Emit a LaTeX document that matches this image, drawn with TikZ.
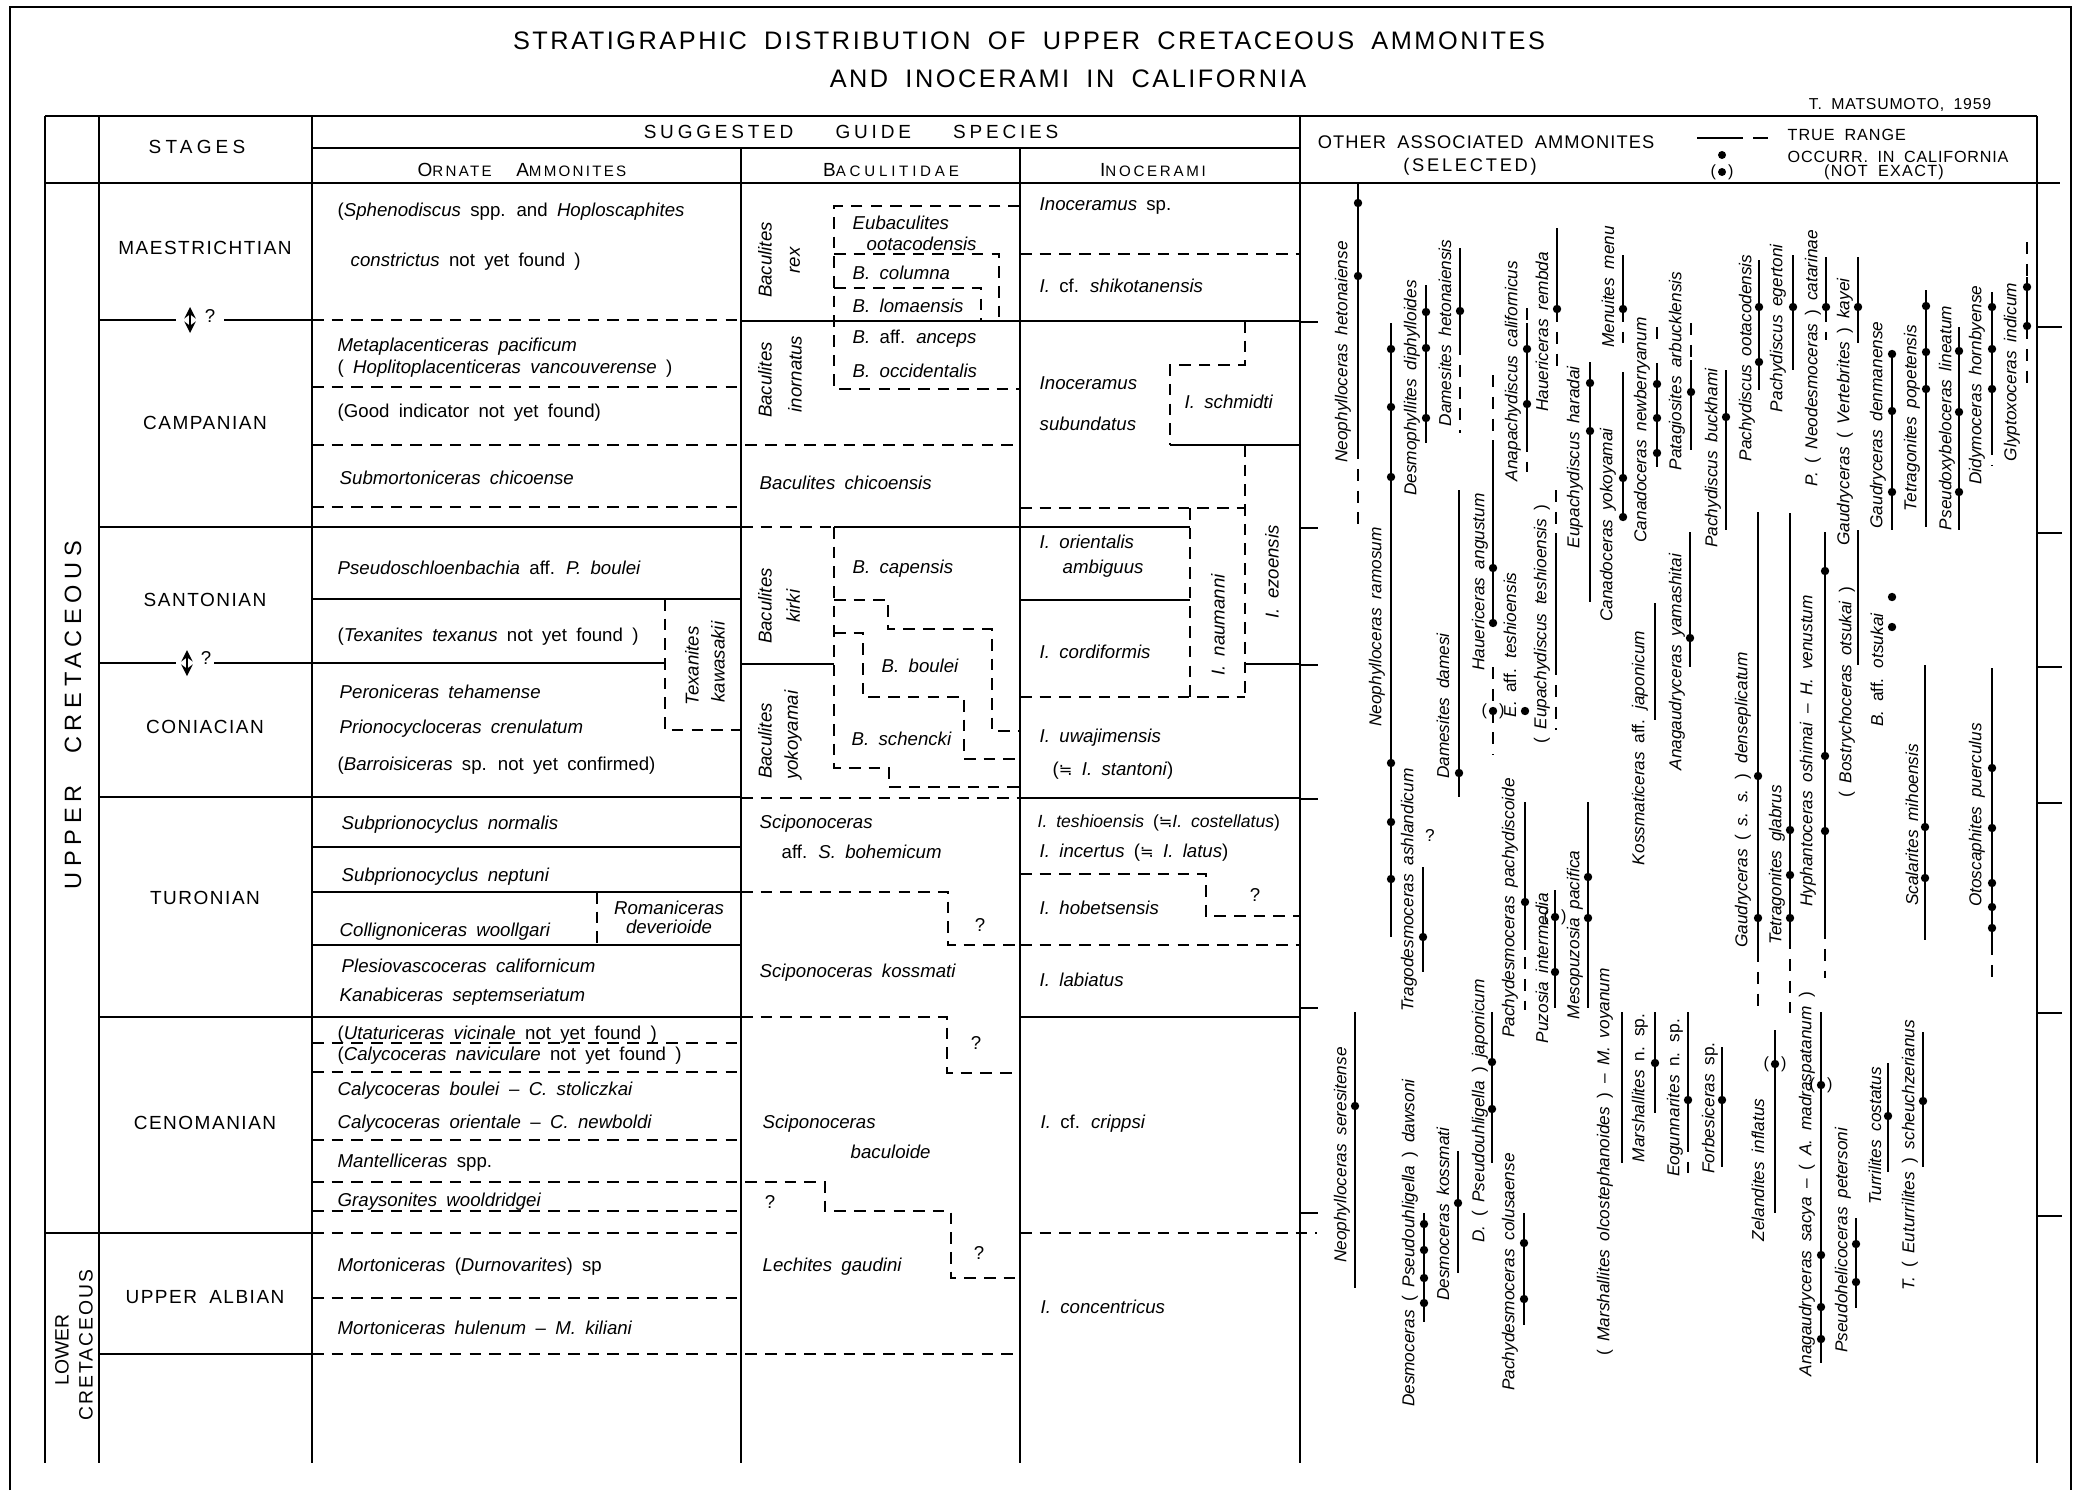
\documentclass[tikz,border=0pt]{standalone}
\usepackage{fontspec}
\setmainfont{Liberation Sans}[WordSpace=1.8]
\newfontfamily\symfont{DejaVu Sans}
\newcommand{\tbfont}{\fontsize{5.3}{6}\selectfont}
\newcommand{\spfont}{\fontsize{4.9}{6}\selectfont}
\newcommand{\stfont}{\fontsize{5.4}{6}\selectfont\addfontfeatures{LetterSpace=8}}
\newcommand{\smc}[1]{{\fontsize{4.3}{5}\selectfont #1}}
\newcommand{\nearly}{{\symfont\fontsize{4.6}{5}\selectfont ≒}}

\tikzset{
	tl/.style={line width=0.6pt},
	td/.style={line width=0.6pt, dash pattern=on 3.3pt off 2.3pt},
	rg/.style={line width=0.55pt},
	rd/.style={line width=0.55pt, dash pattern=on 3.4pt off 2.8pt},
	tx/.style={anchor=west, inner sep=0pt, font=\tbfont},
	rt/.style={rotate=90, inner sep=0pt, font=\tbfont},
	lab/.style={rotate=90, inner sep=0pt, font=\spfont},
	stg/.style={inner sep=0pt, font=\stfont},
}

\begin{document}
\begin{tikzpicture}[x=0.01cm, y=-0.01cm]
	\useasboundingbox (0,0) rectangle (2077,1503);
	\draw[tl] (10,1490) -- (10,7) -- (2071,7) -- (2071,1490);

	\node[font=\fontsize{7.2}{8}\selectfont\addfontfeatures{LetterSpace=10}] (title) at (1029,41) {STRATIGRAPHIC DISTRIBUTION OF UPPER CRETACEOUS AMMONITES};
	\node[font=\fontsize{7.2}{8}\selectfont\addfontfeatures{LetterSpace=10}] (titleb) at (1068,79) {AND INOCERAMI IN CALIFORNIA};
	\node[font=\fontsize{4.5}{5}\selectfont\addfontfeatures{LetterSpace=5}] (author) at (1900,105) {T. MATSUMOTO, 1959};

	\foreach \x in {45, 99, 312, 1300, 2037}
		\draw[tl] (\x,116) -- (\x,1463);
	\foreach \x in {741, 1020}
		\draw[tl] (\x,148) -- (\x,1463);
	\draw[tl] (45,116) -- (2037,116);
	\draw[tl] (312,148) -- (1300,148);
	\draw[tl] (45,183) -- (2060,183);

	\node[font=\fontsize{5.4}{6}\selectfont\addfontfeatures{LetterSpace=22}] (stages) at (197,147) {STAGES};
	\node[font=\fontsize{5.4}{6}\selectfont\addfontfeatures{LetterSpace=20}] (guide) at (851,132) {SUGGESTED\hspace{12pt}GUIDE\hspace{12pt}SPECIES};
	\node[font=\fontsize{5.4}{6}\selectfont\addfontfeatures{LetterSpace=15}] (ornate) at (522,170) {O\smc{RNATE}\hspace{7pt}A\smc{MMONITES}};
	\node[font=\fontsize{5.4}{6}\selectfont\addfontfeatures{LetterSpace=25}] (bacul) at (891,170) {B\smc{ACULITIDAE}};
	\node[font=\fontsize{5.4}{6}\selectfont\addfontfeatures{LetterSpace=18}] (inoc) at (1153,170) {I\smc{NOCERAMI}};
	\node[font=\fontsize{5.2}{6}\selectfont\addfontfeatures{LetterSpace=6}] (others) at (1486,142) {OTHER ASSOCIATED AMMONITES};
	\node[font=\fontsize{5.2}{6}\selectfont\addfontfeatures{LetterSpace=15}] (selected) at (1470,167) {(SELECTED)};

	\draw[rg] (1697,138) -- (1743,138) (1753,138) -- (1768,138);
	\fill (1722,155) circle (4);
	\fill (1722,172) circle (4);
	\node[font=\fontsize{4.6}{5}\selectfont] (legpar) at (1722,172) {(\hspace{3.4pt})};
	\node[anchor=west, inner sep=0pt, font=\fontsize{4.6}{5}\selectfont\addfontfeatures{LetterSpace=6}] (truerange) at (1787,135) {TRUE RANGE};
	\node[anchor=west, inner sep=0pt, font=\fontsize{4.6}{5}\selectfont\addfontfeatures{LetterSpace=5}] (occurr) at (1787,157) {OCCURR. IN CALIFORNIA};
	\node[font=\fontsize{4.6}{5}\selectfont\addfontfeatures{LetterSpace=8}] (notexact) at (1884,172) {(NOT EXACT)};

	\node[rotate=90, font=\fontsize{6.7}{7}\selectfont\addfontfeatures{LetterSpace=24}] (upper) at (73,715) {UPPER\hspace{9pt}CRETACEOUS};
	\node[rotate=90, font=\fontsize{5.5}{6}\selectfont] (lower) at (62,1350) {LOWER};
	\node[rotate=90, font=\fontsize{5.5}{6}\selectfont\addfontfeatures{LetterSpace=10}] (lowcret) at (86,1345) {CRETACEOUS};

	\node[stg] (maes) at (205,248) {MAESTRICHTIAN};
	\node[stg] (camp) at (205,423) {CAMPANIAN};
	\node[stg] (sant) at (205,600) {SANTONIAN};
	\node[stg] (coni) at (205,727) {CONIACIAN};
	\node[stg] (turo) at (205,898) {TURONIAN};
	\node[stg] (ceno) at (205,1123) {CENOMANIAN};
	\node[stg] (albi) at (205,1297) {UPPER ALBIAN};

	\draw[stealth-stealth, line width=0.45pt] (190,307) -- (190,333);
	\node[font=\tbfont] (qa) at (210,316) {?};
	\draw[stealth-stealth, line width=0.45pt] (187,650) -- (187,676);
	\node[font=\tbfont] (qb) at (206,658) {?};

	\draw[tl] (99,320) -- (176,320) (224,320) -- (312,320);
	\draw[td] (312,320) -- (741,320);
	\draw[tl] (741,321) -- (1300,321);
	\draw[tl] (99,527) -- (741,527);
	\draw[td] (741,527) -- (834,527);
	\draw[tl] (834,527) -- (1190,527);
	\draw[tl] (99,663) -- (176,663) (214,663) -- (665,663);
	\draw[tl] (741,664) -- (834,664);
	\draw[tl] (1245,664) -- (1300,664);
	\draw[tl] (99,797) -- (741,797);
	\draw[td] (741,798) -- (1020,798);
	\draw[tl] (1020,798) -- (1300,798);
	\draw[tl] (99,1017) -- (741,1017);
	\draw[td] (741,1017) -- (947,1017) -- (947,1073) -- (1020,1073);
	\draw[tl] (1020,1017) -- (1300,1017);
	\draw[tl] (45,1233) -- (312,1233);
	\draw[td] (312,1233) -- (741,1233);
	\draw[td] (1020,1233) -- (1317,1233);
	\draw[tl] (99,1354) -- (312,1354);
	\draw[td] (312,1354) -- (1020,1354);

	\foreach \y in {599, 847, 892, 945}
		\draw[tl] (312,\y) -- (741,\y);
	\foreach \y in {387, 507, 1043, 1072, 1140, 1211, 1298}
		\draw[td] (312,\y) -- (741,\y);
	\draw[td] (312,445) -- (1020,445);
	\draw[td] (312,1182) -- (825,1182) -- (825,1211) -- (951,1211) -- (951,1278) -- (1020,1278);
	\draw[td] (665,599) -- (665,730) -- (741,730);
	\draw[td] (597,892) -- (597,945);

	\draw[td] (1020,206) -- (834,206) -- (834,389) -- (1020,389);
	\draw[td] (834,254) -- (999,254) -- (999,321);
	\draw[td] (834,288) -- (981,288) -- (981,321);
	\draw[td] (834,527) -- (834,768) -- (889,768) -- (889,787) -- (1020,787);
	\draw[td] (834,600) -- (888,600) -- (888,629) -- (992,629) -- (992,731) -- (1020,731);
	\draw[td] (834,633) -- (863,633) -- (863,697) -- (964,697) -- (964,759) -- (1020,759);
	\draw[td] (741,892) -- (948,892) -- (948,945) -- (1020,945);

	\draw[td] (1020,254) -- (1300,254);
	\draw[td] (1245,321) -- (1245,365) -- (1170,365) -- (1170,445);
	\draw[tl] (1170,445) -- (1300,445);
	\draw[td] (1245,445) -- (1245,697);
	\draw[td] (1020,508) -- (1245,508);
	\draw[td] (1190,508) -- (1190,697);
	\draw[td] (1020,697) -- (1245,697);
	\draw[tl] (1020,600) -- (1190,600);
	\draw[td] (1020,874) -- (1206,874) -- (1206,916) -- (1300,916);
	\draw[td] (1020,945) -- (1300,945);

	\foreach \y in {322, 528, 665, 799, 1008, 1213}
		\draw[tl] (1300,\y) -- (1318,\y);
	\foreach \y in {327, 533, 667, 803, 1013, 1216}
		\draw[tl] (2037,\y) -- (2062,\y);

	\node[tx] (sphen) at (337,212) {(\textit{Sphenodiscus} spp. and \textit{Hoploscaphites}};
	\node[tx] (constr) at (350,262) {\textit{constrictus} not yet found )};
	\node[tx] (metapl) at (337,347) {\textit{Metaplacenticeras pacificum}};
	\node[tx] (hoplit) at (337,369) {( \textit{Hoplitoplacenticeras vancouverense} )};
	\node[tx] (goodind) at (337,413) {(Good indicator not yet found)};
	\node[tx] (submort) at (339,478) {\textit{Submortoniceras chicoense}};
	\node[tx] (pseudos) at (337,568) {\textit{Pseudoschloenbachia} aff. \textit{P. boulei}};
	\node[tx] (texan) at (337,637) {(\textit{Texanites texanus} not yet found )};
	\node[tx] (peron) at (339,692) {\textit{Peroniceras tehamense}};
	\node[tx] (prion) at (339,729) {\textit{Prionocycloceras crenulatum}};
	\node[tx] (barro) at (337,766) {(\textit{Barroisiceras} sp. not yet confirmed)};
	\node[tx] (normal) at (341,825) {\textit{Subprionocyclus normalis}};
	\node[tx] (neptun) at (341,877) {\textit{Subprionocyclus neptuni}};
	\node[tx] (woollg) at (339,932) {\textit{Collignoniceras woollgari}};
	\node[font=\tbfont, inner sep=0pt] (romani) at (669,908) {\textit{Romaniceras}};
	\node[font=\tbfont, inner sep=0pt] (deveri) at (669,927) {\textit{deverioide}};
	\node[tx] (plesio) at (341,966) {\textit{Plesiovascoceras californicum}};
	\node[tx] (kanab) at (339,997) {\textit{Kanabiceras septemseriatum}};
	\node[tx] (utat) at (337,1035) {(\textit{Utaturiceras vicinale} not yet found )};
	\node[tx] (navic) at (337,1056) {(\textit{Calycoceras naviculare} not yet found )};
	\node[tx] (cboul) at (337,1091) {\textit{Calycoceras boulei} -- \textit{C. stoliczkai}};
	\node[tx] (corient) at (337,1124) {\textit{Calycoceras orientale} -- \textit{C. newboldi}};
	\node[tx] (mantel) at (337,1163) {\textit{Mantelliceras} spp.};
	\node[tx] (grays) at (337,1202) {\textit{Graysonites wooldridgei}};
	\node[tx] (durno) at (337,1267) {\textit{Mortoniceras} (\textit{Durnovarites}) sp};
	\node[tx] (hulen) at (337,1328) {\textit{Mortoniceras hulenum} -- \textit{M. kiliani}};
	\node[rt] (texka) at (692,666) {\textit{Texanites}};
	\node[rt] (texkb) at (718,662) {\textit{kawasakii}};

	\node[rt] (rexa) at (765,260) {\textit{Baculites}};
	\node[rt] (rexb) at (795,260) {\textit{rex}};
	\node[tx] (eubac) at (852,223) {\textit{Eubaculites}};
	\node[tx] (ootac) at (866,244) {\textit{ootacodensis}};
	\node[tx] (colum) at (852,273) {\textit{B. columna}};
	\node[tx] (lomae) at (852,306) {\textit{B. lomaensis}};
	\node[rt] (inora) at (765,380) {\textit{Baculites}};
	\node[rt] (inorb) at (795,374) {\textit{inornatus}};
	\node[tx] (anceps) at (852,339) {\textit{B.} aff. \textit{anceps}};
	\node[tx] (occid) at (852,371) {\textit{B. occidentalis}};
	\node[tx] (bchico) at (759,483) {\textit{Baculites chicoensis}};
	\node[rt] (kirka) at (765,606) {\textit{Baculites}};
	\node[rt] (kirkb) at (793,606) {\textit{kirki}};
	\node[tx] (capens) at (852,569) {\textit{B. capensis}};
	\node[tx] (bboul) at (881,666) {\textit{B. boulei}};
	\node[rt] (yokoa) at (765,741) {\textit{Baculites}};
	\node[rt] (yokob) at (793,735) {\textit{yokoyamai}};
	\node[tx] (schen) at (851,739) {\textit{B. schencki}};
	\node[tx] (scipa) at (759,824) {\textit{Sciponoceras}};
	\node[tx] (bohem) at (781,852) {aff. \textit{S. bohemicum}};
	\node[tx] (kossm) at (759,973) {\textit{Sciponoceras kossmati}};
	\node[tx] (scipb) at (762,1124) {\textit{Sciponoceras}};
	\node[tx] (bacld) at (850,1152) {\textit{baculoide}};
	\node[tx] (lechi) at (762,1267) {\textit{Lechites gaudini}};
	\node[font=\tbfont] (qc) at (980,925) {?};
	\node[font=\tbfont] (qd) at (976,1043) {?};
	\node[font=\tbfont] (qe) at (770,1202) {?};
	\node[font=\tbfont] (qf) at (979,1253) {?};

	\node[tx] (inosp) at (1039,206) {\textit{Inoceramus} sp.};
	\node[tx] (shiko) at (1039,286) {\textit{I.} cf. \textit{shikotanensis}};
	\node[tx] (subuna) at (1039,383) {\textit{Inoceramus}};
	\node[tx] (subunb) at (1039,424) {\textit{subundatus}};
	\node[tx] (schmi) at (1184,402) {\textit{I. schmidti}};
	\node[tx] (orient) at (1039,542) {\textit{I. orientalis}};
	\node[tx] (ambig) at (1062,569) {\textit{ambiguus}};
	\node[tx] (cordi) at (1039,652) {\textit{I. cordiformis}};
	\node[rt] (nauma) at (1218,625) {\textit{I. naumanni}};
	\node[rt] (ezoen) at (1272,572) {\textit{I. ezoensis}};
	\node[tx] (uwaji) at (1039,738) {\textit{I. uwajimensis}};
	\node[tx] (stant) at (1052,771) {(\nearly{} \textit{I. stantoni})};
	\node[tx, font=\fontsize{5}{6}\selectfont] (teshi) at (1037,823) {\textit{I. teshioensis} (\nearly\textit{I. costellatus})};
	\node[tx] (incer) at (1039,853) {\textit{I. incertus} (\nearly{} \textit{I. latus})};
	\node[font=\tbfont] (qg) at (1255,895) {?};
	\node[tx] (hobet) at (1039,908) {\textit{I. hobetsensis}};
	\node[tx] (labia) at (1039,980) {\textit{I. labiatus}};
	\node[tx] (cripp) at (1040,1124) {\textit{I.} cf. \textit{crippsi}};
	\node[tx] (conce) at (1040,1307) {\textit{I. concentricus}};

	\foreach \x/\ya/\yb in {1358/184/447, 1391/323/937, 1423/867/972, 1426/285/443, 1460/248/343, 1459/490/797, 1493/445/623, 1527/323/440, 1557/228/310, 1556/533/663, 1590/362/602, 1623/255/310, 1623/372/517, 1657/363/467, 1691/360/450, 1690/532/667, 1726/370/530, 1759/260/390, 1793/255/370, 1826/257/310, 1858/257/343, 1892/350/530, 1926/290/527, 1959/327/530, 1992/292/443, 2027/277/327, 1655/603/720, 1758/512/950, 1790/513/937, 1825/532/927, 1858/530/665, 1925/665/940, 1992/668/943, 1525/802/950, 1555/890/1008, 1588/802/1008, 1355/1012/1288, 1424/1213/1322, 1458/1151/1273, 1492/1012/1163, 1524/1213/1325, 1622/1012/1163, 1655/1012/1113, 1688/1012/1140, 1722/1047/1167, 1775/1030/1213, 1821/1012/1363, 1856/1218/1308, 1888/1063/1172, 1923/1032/1167}
		\draw[rg] (\x,\ya) -- (\x,\yb);
	\foreach \x/\ya/\yb in {1358/447/530, 1460/343/433, 1493/375/445, 1493/667/755, 1527/308/323, 1527/440/472, 1557/310/367, 1556/490/533, 1556/663/730, 1623/310/343, 1657/327/345, 1691/323/360, 1826/310/340, 1992/443/465, 2027/242/277, 2027/327/383, 1758/950/1010, 1790/937/1013, 1825/927/978, 1992/943/977, 1525/957/1010, 1688/1140/1173}
		\draw[rd] (\x,\ya) -- (\x,\yb);
	\foreach \x/\y in {1358/203, 1358/276, 1391/349, 1391/407, 1391/477, 1391/763, 1391/822, 1391/879, 1423/937, 1426/312, 1426/348, 1426/418, 1460/311, 1459/773, 1493/568, 1493/623, 1527/349, 1527/404, 1557/309, 1525/711, 1590/383, 1590/431, 1623/309, 1623/478, 1623/517, 1657/384, 1657/418, 1657/453, 1691/392, 1690/638, 1726/417, 1759/307, 1759/362, 1793/307, 1826/307, 1858/307, 1892/354, 1892/411, 1892/492, 1926/306, 1926/352, 1926/389, 1959/351, 1959/412, 1959/492, 1992/307, 1992/349, 1992/389, 2027/287, 2027/326, 1758/776, 1758/918, 1790/830, 1790/875, 1790/918, 1825/571, 1825/756, 1825/831, 1892/597, 1892/627, 1925/827, 1925/878, 1992/768, 1992/828, 1992/883, 1992/907, 1992/928, 1525/902, 1555/972, 1588/877, 1588/918, 1355/1106, 1424/1224, 1424/1250, 1424/1278, 1424/1303, 1458/1203, 1492/1062, 1492/1109, 1524/1243, 1524/1299, 1655/1063, 1688/1100, 1722/1100, 1821/1255, 1821/1307, 1821/1339, 1856/1244, 1856/1282, 1888/1116, 1923/1101}
		\fill (\x,\y) circle (4.2);
	\foreach \x/\y in {1493/711, 1555/917, 1775/1064, 1821/1085}
	{
		\fill (\x,\y) circle (4.2);
		\node[font=\fontsize{4.6}{5}\selectfont] at (\x,\y) {(\hspace{3.4pt})};
	}

	\node[lab] (hetonaiense) at (1343,352) {\textit{Neophylloceras hetonaiense}};
	\node[lab] (ramosum) at (1377,627) {\textit{Neophylloceras ramosum}};
	\node[lab] (ashland) at (1409,890) {\textit{Tragodesmoceras ashlandicum}};
	\node[font=\spfont] (qh) at (1430,835) {?};
	\node[lab] (diphyl) at (1412,388) {\textit{Desmophyllites diphylloides}};
	\node[lab] (damhet) at (1445,333) {\textit{Damesites hetonaiensis}};
	\node[lab] (damesi) at (1443,706) {\textit{Damesites damesi}};
	\node[lab] (angust) at (1480,582) {\textit{Hauericeras angustum}};
	\node[lab] (califo) at (1513,371) {\textit{Anapachydiscus californicus}};
	\node[lab] (rembda) at (1542,332) {\textit{Hauericeras rembda}};
	\node[lab] (eteshi) at (1510,645) {\textit{E.} aff. \textit{teshioensis}};
	\node[lab] (eupteshi) at (1542,624) {( \textit{Eupachydiscus teshioensis} )};
	\node[lab] (haradai) at (1575,457) {\textit{Eupachydiscus haradai}};
	\node[lab] (menu) at (1608,287) {\textit{Menuites menu}};
	\node[lab] (yokoyamai) at (1608,525) {\textit{Canadoceras yokoyamai}};
	\node[lab] (newberry) at (1642,430) {\textit{Canadoceras newberryanum}};
	\node[lab] (arbuck) at (1677,371) {\textit{Patagiosites arbucklensis}};
	\node[lab] (yamash) at (1677,662) {\textit{Anagaudryceras yamashitai}};
	\node[lab] (buckh) at (1713,458) {\textit{Pachydiscus buckhami}};
	\node[lab] (ootaco) at (1747,358) {\textit{Pachydiscus ootacodensis}};
	\node[lab] (egert) at (1778,328) {\textit{Pachydiscus egertoni}};
	\node[lab] (catar) at (1813,358) {\textit{P.} ( \textit{Neodesmoceras} ) \textit{catarinae}};
	\node[lab] (kayei) at (1845,412) {\textit{Gaudryceras} ( \textit{Vertebrites} ) \textit{kayei}};
	\node[lab] (denman) at (1878,425) {\textit{Gaudryceras denmanense}};
	\node[lab] (popet) at (1912,418) {\textit{Tetragonites popetensis}};
	\node[lab] (lineat) at (1947,418) {\textit{Pseudoxybeloceras lineatum}};
	\node[lab] (hornby) at (1977,385) {\textit{Didymoceras hornbyense}};
	\node[lab] (indic) at (2012,372) {\textit{Glyptoxoceras indicum}};
	\node[lab] (japkos) at (1640,748) {\textit{Kossmaticeras} aff. \textit{japonicum}};
	\node[lab] (densep) at (1743,800) {\textit{Gaudryceras} ( \textit{s. s.} ) \textit{denseplicatum}};
	\node[lab] (glabr) at (1777,865) {\textit{Tetragonites glabrus}};
	\node[lab] (oshim) at (1808,751) {\textit{Hyphantoceras oshimai} -- \textit{H. venustum}};
	\node[lab] (bostr) at (1847,692) {( \textit{Bostrychoceras otsukai} )};
	\node[lab] (otsuk) at (1877,670) {\textit{B.} aff. \textit{otsukai}};
	\node[lab] (mihoe) at (1912,825) {\textit{Scalarites mihoensis}};
	\node[lab] (puerc) at (1977,815) {\textit{Otoscaphites puerculus}};
	\node[lab] (pachyd) at (1510,908) {\textit{Pachydesmoceras pachydiscoide}};
	\node[lab] (interm) at (1542,968) {\textit{Puzosia intermedia}};
	\node[lab] (pacif) at (1575,935) {\textit{Mesopuzosia pacifica}};
	\node[lab] (seres) at (1342,1155) {\textit{Neophylloceras seresitense}};
	\node[lab] (dawson) at (1410,1243) {\textit{Desmoceras} ( \textit{Pseudouhligella} ) \textit{dawsoni}};
	\node[lab] (dkossm) at (1443,1214) {\textit{Desmoceras kossmati}};
	\node[lab] (japon) at (1480,1111) {\textit{D.} ( \textit{Pseudouhligella} ) \textit{japonicum}};
	\node[lab] (colus) at (1510,1272) {\textit{Pachydesmoceras colusaense}};
	\node[lab] (voyan) at (1605,1162) {( \textit{Marshallites olcostephanoides} ) -- \textit{M. voyanum}};
	\node[lab] (marsh) at (1640,1088) {\textit{Marshallites} n. sp.};
	\node[lab] (eogun) at (1675,1098) {\textit{Eogunnarites} n. sp.};
	\node[lab] (forbe) at (1710,1108) {\textit{Forbesiceras} sp.};
	\node[lab] (zelan) at (1758,1170) {\textit{Zelandites inflatus}};
	\node[lab] (sacya) at (1807,1184) {\textit{Anagaudryceras sacya} -- ( \textit{A. madraspatanum} )};
	\node[lab] (peter) at (1843,1240) {\textit{Pseudohelicoceras petersoni}};
	\node[lab] (costat) at (1875,1136) {\textit{Turrilites costatus}};
	\node[lab] (scheu) at (1910,1155) {\textit{T.} ( \textit{Euturrilites} ) \textit{scheuchzerianus}};
\end{tikzpicture}
\end{document}
